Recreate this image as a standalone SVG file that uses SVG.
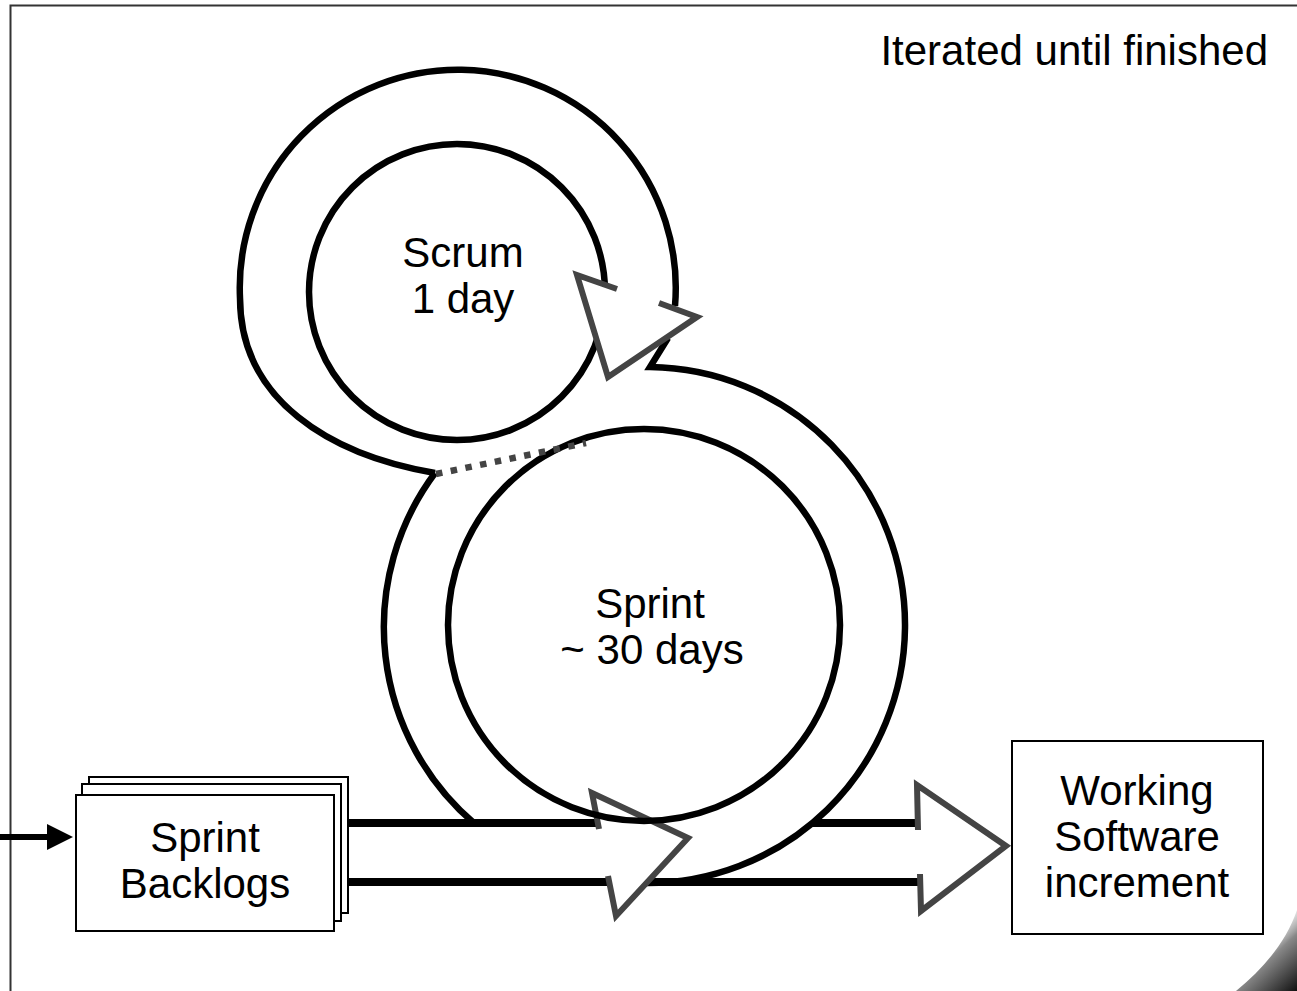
<svg xmlns="http://www.w3.org/2000/svg" width="1297" height="991" viewBox="0 0 1297 991">
<defs>
<style>
.ring{fill:none;stroke:#000;stroke-width:6.5}
.band{fill:none;stroke:#000;stroke-width:8}
.headfill{fill:#fff;stroke:none}
.headline{fill:none;stroke:#444;stroke-width:6;stroke-linejoin:miter;stroke-linecap:butt}
.dots{fill:none;stroke:#444;stroke-width:6.5;stroke-dasharray:6.5 8.5}
.lbl{font-family:"Liberation Sans",Arial,sans-serif;font-size:42px;fill:#000;text-anchor:middle}
.box{fill:#fff;stroke:#000;stroke-width:2}
</style>
<linearGradient id="curl" x1="1245" y1="935" x2="1297" y2="991" gradientUnits="userSpaceOnUse">
<stop offset="0" stop-color="#fff" stop-opacity="0"/>
<stop offset="0.45" stop-color="#888"/>
<stop offset="1" stop-color="#111"/>
</linearGradient>
</defs>
<rect x="0" y="0" width="1297" height="991" fill="#fff"/>
<g id="frame">
<path d="M10.5,991 V5.5 H1297" fill="none" stroke="#333" stroke-width="2"/>
<path d="M1297,910 C1286,942 1264,968 1236,991 L1297,991 Z" fill="url(#curl)"/>
</g>
<g id="connectors">
<line x1="0" y1="837" x2="50" y2="837" stroke="#000" stroke-width="6"/>
<polygon points="47,824 73,837 47,850" fill="#000"/>
<line class="band" x1="348" y1="823" x2="600" y2="823"/>
<line class="band" x1="348" y1="882" x2="920" y2="882"/>
<line class="band" x1="812" y1="823" x2="919" y2="823"/>
<circle class="ring" cx="457" cy="292" r="148"/>
<path class="ring" d="M435,473 C330,455 240,400 240,298 A218,218 0 1 1 675,306"/>
<path class="ring" d="M435,473 A258,258 0 0 0 475,824"/>
<path class="ring" d="M668,338 L650,367 A258,258 0 0 1 644,883"/>
<polygon class="headfill" points="577,275 697,317 608,377"/>
<path class="headline" d="M617,289 L577,275 L608,377 L697,317 L659,303"/>
<polygon class="headfill" points="592,793 688,838 616,916"/>
<path class="headline" d="M599,829 L592,793 L688,838 L616,916 L608,876"/>
<polygon class="headfill" points="917,785 1006,846 921,911"/>
<path class="headline" d="M918,830 L917,785 L1006,846 L921,911 L920,874"/>
<circle class="ring" cx="644" cy="625" r="196"/>
<line class="dots" x1="436" y1="474" x2="586" y2="443"/>
</g>
<g id="scrum">
<text class="lbl" x="463" y="267">Scrum</text>
<text class="lbl" x="463" y="313">1 day</text>
</g>
<g id="sprint">
<text class="lbl" x="650" y="618">Sprint</text>
<text class="lbl" x="652" y="664">~ 30 days</text>
</g>
<g id="sprint-backlogs">
<rect class="box" x="89" y="777" width="259" height="136"/>
<rect class="box" x="82" y="784" width="259" height="137"/>
<rect class="box" x="76" y="795" width="258" height="136"/>
<text class="lbl" x="205" y="852">Sprint</text>
<text class="lbl" x="205" y="898">Backlogs</text>
</g>
<g id="working-software">
<rect class="box" x="1012" y="741" width="251" height="193" stroke-width="1.5"/>
<text class="lbl" x="1137" y="805">Working</text>
<text class="lbl" x="1137" y="851">Software</text>
<text class="lbl" x="1137" y="897">increment</text>
</g>
<g id="title">
<text class="lbl" x="1268" y="65" style="text-anchor:end">Iterated until finished</text>
</g>
</svg>
